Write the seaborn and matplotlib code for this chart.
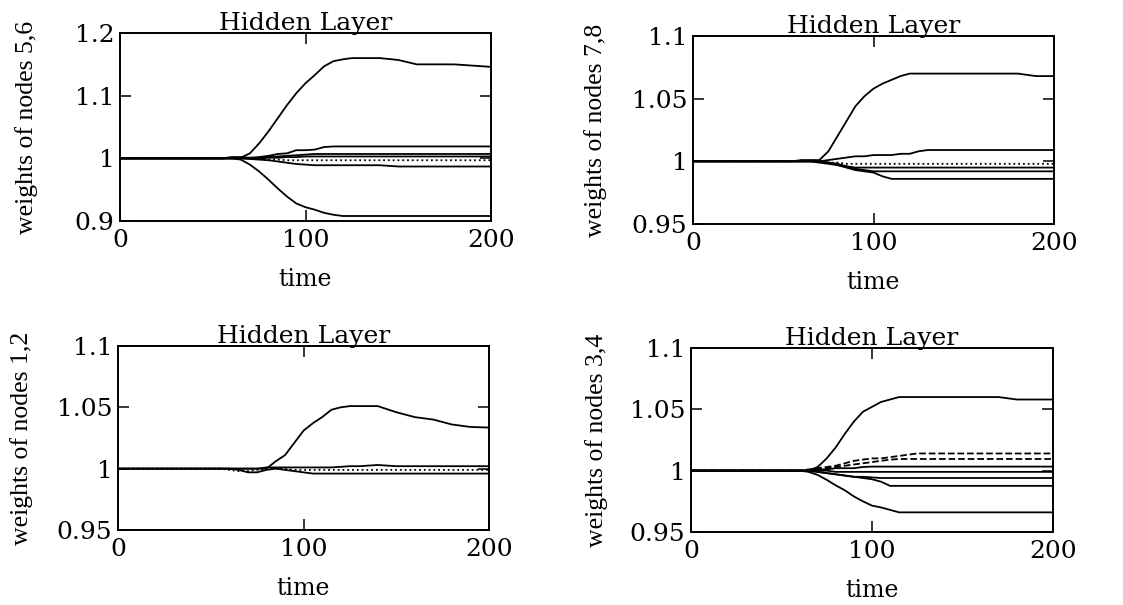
import numpy as np
import pandas as pd
import matplotlib
matplotlib.use("Agg")
import matplotlib.pyplot as plt
import seaborn as sns

# Sample times shared by every weight trace
time = [0, 55, 60, 65, 70, 75, 80, 85, 90, 95, 100, 105, 110, 115, 120,
        125, 130, 140, 150, 160, 170, 180, 190, 200]

# Hidden layer, nodes 5,6
w56_a = [1.000, 1.000, 1.000, 1.001, 1.008, 1.024, 1.043, 1.064, 1.085, 1.104, 1.120, 1.133,
         1.147, 1.155, 1.158, 1.160, 1.160, 1.160, 1.157, 1.150, 1.150, 1.150, 1.148, 1.146]
w56_b = [1.000, 1.000, 1.000, 0.998, 0.990, 0.979, 0.966, 0.952, 0.939, 0.928, 0.922, 0.918,
         0.913, 0.910, 0.908, 0.908, 0.908, 0.908, 0.908, 0.908, 0.908, 0.908, 0.908, 0.908]
w56_c = [1.000, 1.000, 1.002, 1.002, 1.001, 1.002, 1.004, 1.007, 1.008, 1.013, 1.013, 1.014,
         1.018, 1.019, 1.019, 1.019, 1.019, 1.019, 1.019, 1.019, 1.019, 1.019, 1.019, 1.019]
w56_d = [1.000, 1.000, 1.001, 1.001, 1.000, 1.001, 1.002, 1.003, 1.004, 1.005, 1.006, 1.007,
         1.007, 1.007, 1.007, 1.007, 1.007, 1.007, 1.007, 1.007, 1.007, 1.007, 1.007, 1.007]
w56_e = [1.000, 1.000, 1.000, 1.000, 1.000, 1.000, 1.001, 1.001, 1.002, 1.002, 1.003, 1.003,
         1.003, 1.003, 1.003, 1.003, 1.003, 1.003, 1.003, 1.003, 1.003, 1.003, 1.003, 1.003]
w56_f = [1.000, 1.000, 1.000, 1.000, 1.000, 0.999, 0.998, 0.998, 0.997, 0.997, 0.997, 0.997,
         0.997, 0.997, 0.997, 0.997, 0.997, 0.997, 0.997, 0.997, 0.997, 0.997, 0.997, 0.997]
w56_g = [1.000, 1.000, 1.000, 1.000, 0.999, 0.998, 0.997, 0.995, 0.993, 0.991, 0.990, 0.989,
         0.989, 0.989, 0.989, 0.989, 0.989, 0.989, 0.987, 0.987, 0.987, 0.987, 0.987, 0.987]

# Hidden layer, nodes 7,8
w78_a = [1.000, 1.000, 1.001, 1.001, 1.001, 1.008, 1.020, 1.032, 1.044, 1.052, 1.058, 1.062,
         1.065, 1.068, 1.070, 1.070, 1.070, 1.070, 1.070, 1.070, 1.070, 1.070, 1.068, 1.068]
w78_b = [1.000, 1.000, 1.000, 1.000, 1.000, 1.001, 1.002, 1.003, 1.004, 1.004, 1.005, 1.005,
         1.005, 1.006, 1.006, 1.008, 1.009, 1.009, 1.009, 1.009, 1.009, 1.009, 1.009, 1.009]
w78_c = [1.000, 1.000, 1.000, 1.000, 0.999, 0.999, 0.999, 0.998, 0.998, 0.998, 0.998, 0.998,
         0.998, 0.998, 0.998, 0.998, 0.998, 0.998, 0.998, 0.998, 0.998, 0.998, 0.998, 0.998]
w78_d = [1.000, 1.000, 1.000, 1.000, 0.999, 0.998, 0.997, 0.996, 0.995, 0.995, 0.995, 0.995,
         0.995, 0.995, 0.995, 0.995, 0.995, 0.995, 0.995, 0.995, 0.995, 0.995, 0.995, 0.995]
w78_e = [1.000, 1.000, 1.000, 1.000, 1.000, 0.999, 0.998, 0.996, 0.994, 0.993, 0.992, 0.992,
         0.992, 0.992, 0.992, 0.992, 0.992, 0.992, 0.992, 0.992, 0.992, 0.992, 0.992, 0.992]
w78_f = [1.000, 1.000, 1.000, 1.000, 1.000, 0.999, 0.997, 0.995, 0.993, 0.992, 0.991, 0.988,
         0.986, 0.986, 0.986, 0.986, 0.986, 0.986, 0.986, 0.986, 0.986, 0.986, 0.986, 0.986]

# Hidden layer, nodes 1,2
w12_a = [1.000, 1.000, 1.000, 1.000, 1.000, 1.000, 1.000, 1.006, 1.011, 1.021, 1.031, 1.037,
         1.042, 1.048, 1.050, 1.051, 1.051, 1.051, 1.046, 1.042, 1.040, 1.036, 1.034, 1.0335]
w12_b = [1.000, 1.000, 1.000, 1.000, 1.000, 1.000, 1.001, 1.001, 1.001, 1.001, 1.001, 1.001,
         1.001, 1.001, 1.0015, 1.002, 1.002, 1.003, 1.002, 1.002, 1.002, 1.002, 1.002, 1.002]
w12_c = [1.000, 1.000, 0.999, 0.998, 0.998, 0.999, 1.000, 1.000, 1.000, 0.999, 0.999, 0.999,
         0.999, 0.999, 0.999, 0.999, 0.999, 0.999, 0.999, 0.999, 0.999, 0.999, 0.999, 0.999]
w12_d = [1.000, 1.000, 1.000, 0.999, 0.997, 0.997, 0.999, 1.000, 0.999, 0.998, 0.997, 0.996,
         0.996, 0.996, 0.996, 0.996, 0.996, 0.996, 0.996, 0.996, 0.996, 0.996, 0.996, 0.996]

# Hidden layer, nodes 3,4
w34_a = [1.000, 1.000, 1.000, 1.000, 1.003, 1.010, 1.019, 1.030, 1.040, 1.048, 1.052, 1.056,
         1.058, 1.060, 1.060, 1.060, 1.060, 1.060, 1.060, 1.060, 1.060, 1.058, 1.058, 1.058]
w34_b = [1.000, 1.000, 1.000, 0.999, 0.9965, 0.9925, 0.988, 0.984, 0.979, 0.975, 0.9715, 0.970,
         0.968, 0.966, 0.966, 0.966, 0.966, 0.966, 0.966, 0.966, 0.966, 0.966, 0.966, 0.966]
w34_c = [1.000, 1.000, 1.000, 1.001, 1.002, 1.003, 1.004, 1.006, 1.008, 1.009, 1.010, 1.010,
         1.011, 1.012, 1.013, 1.014, 1.014, 1.014, 1.014, 1.014, 1.014, 1.014, 1.014, 1.014]
w34_d = [1.000, 1.000, 1.000, 1.000, 1.001, 1.002, 1.003, 1.004, 1.005, 1.006, 1.007, 1.008,
         1.009, 1.0095, 1.0095, 1.0095, 1.0095, 1.0095, 1.0095, 1.0095, 1.0095, 1.0095, 1.0095, 1.0095]
w34_e = [1.000, 1.000, 1.000, 1.000, 1.001, 1.001, 1.002, 1.002, 1.002, 1.003, 1.0033, 1.0033,
         1.0033, 1.0033, 1.0033, 1.0033, 1.0033, 1.0033, 1.0033, 1.0033, 1.0033, 1.0033, 1.0033, 1.0033]
w34_f = [1.000, 1.000, 1.000, 1.000, 1.000, 1.000, 0.999, 0.999, 0.999, 0.999, 0.999, 0.999,
         0.999, 0.999, 0.999, 0.999, 0.999, 0.999, 0.999, 0.999, 0.999, 0.999, 0.999, 0.999]
w34_g = [1.000, 1.000, 1.000, 1.000, 0.999, 0.998, 0.997, 0.996, 0.995, 0.995, 0.9945, 0.994,
         0.994, 0.994, 0.994, 0.994, 0.994, 0.994, 0.994, 0.994, 0.994, 0.994, 0.994, 0.994]
w34_h = [1.000, 1.000, 1.000, 1.000, 0.999, 0.998, 0.997, 0.996, 0.995, 0.994, 0.993, 0.991,
         0.9876, 0.9876, 0.9876, 0.9876, 0.9876, 0.9876, 0.9876, 0.9876, 0.9876, 0.9876, 0.9876, 0.9876]

panels = [
    dict(rect=[0.1069, 0.6347, 0.3304, 0.3107], ylabel="weights of nodes 5,6",
         ylim=(0.9, 1.2), yticks=[0.9, 1.0, 1.1, 1.2], ylabels=["0.9", "1", "1.1", "1.2"],
         series=[(w56_a, "-"), (w56_b, "-"), (w56_c, "-"), (w56_d, "-"),
                 (w56_e, "-"), (w56_f, ":"), (w56_g, "-")], labx=-0.221),
    dict(rect=[0.6171, 0.6298, 0.3215, 0.3107], ylabel="weights of nodes 7,8",
         ylim=(0.95, 1.1), yticks=[0.95, 1.0, 1.05, 1.1], ylabels=["0.95", "1", "1.05", "1.1"],
         series=[(w78_a, "-"), (w78_b, "-"), (w78_c, ":"), (w78_d, "-"),
                 (w78_e, "-"), (w78_f, "-")], labx=-0.238),
    dict(rect=[0.1051, 0.1240, 0.3304, 0.3041], ylabel="weights of nodes 1,2",
         ylim=(0.95, 1.1), yticks=[0.95, 1.0, 1.05, 1.1], ylabels=["0.95", "1", "1.05", "1.1"],
         series=[(w12_a, "-"), (w12_b, "-"), (w12_c, ":"), (w12_d, "-")], labx=-0.229),
    dict(rect=[0.6153, 0.1207, 0.3223, 0.3041], ylabel="weights of nodes 3,4",
         ylim=(0.95, 1.1), yticks=[0.95, 1.0, 1.05, 1.1], ylabels=["0.95", "1", "1.05", "1.1"],
         series=[(w34_a, "-"), (w34_b, "-"), (w34_c, "--"), (w34_d, "--"),
                 (w34_e, "-"), (w34_f, "-"), (w34_g, "-"), (w34_h, "-")], labx=-0.229),
]

sns.set_style("ticks")
plt.rcParams["font.family"] = ["DejaVu Serif", "DejaVu Sans"]
plt.rcParams["text.color"] = "black"
plt.rcParams["axes.labelcolor"] = "black"
plt.rcParams["axes.titlecolor"] = "black"

fig = plt.figure(figsize=(11.23, 6.05), dpi=100)

for p in panels:
    ax = fig.add_axes(p["rect"])
    for vals, ls in p["series"]:
        df = pd.DataFrame({"time": time, "weight": vals})
        sns.lineplot(data=df, x="time", y="weight", ax=ax, color="black",
                     linewidth=1.3, linestyle=ls)
    ax.set_xlim(0, 200)
    ax.set_ylim(*p["ylim"])
    ax.set_xticks([0, 100, 200])
    ax.set_xticklabels(["0", "100", "200"])
    ax.set_yticks(p["yticks"])
    ax.set_yticklabels(p["ylabels"])
    ax.tick_params(direction="in", top=True, right=True, length=8, width=1.1,
                   labelsize=18, color="black", labelcolor="black")
    ax.tick_params(axis="x", pad=6)
    ax.tick_params(axis="y", pad=4)
    for s in ax.spines.values():
        s.set_linewidth(1.4)
        s.set_color("black")
    ax.set_title("Hidden Layer", fontsize=18, pad=2, color="black")
    ax.set_xlabel("time", fontsize=17, labelpad=11, color="black")
    ax.set_ylabel(p["ylabel"], fontsize=18.5, family=["Liberation Serif"], color="black")
    ax.yaxis.set_label_coords(p["labx"], 0.5)

fig.savefig("out.png", dpi=100, facecolor="white")
